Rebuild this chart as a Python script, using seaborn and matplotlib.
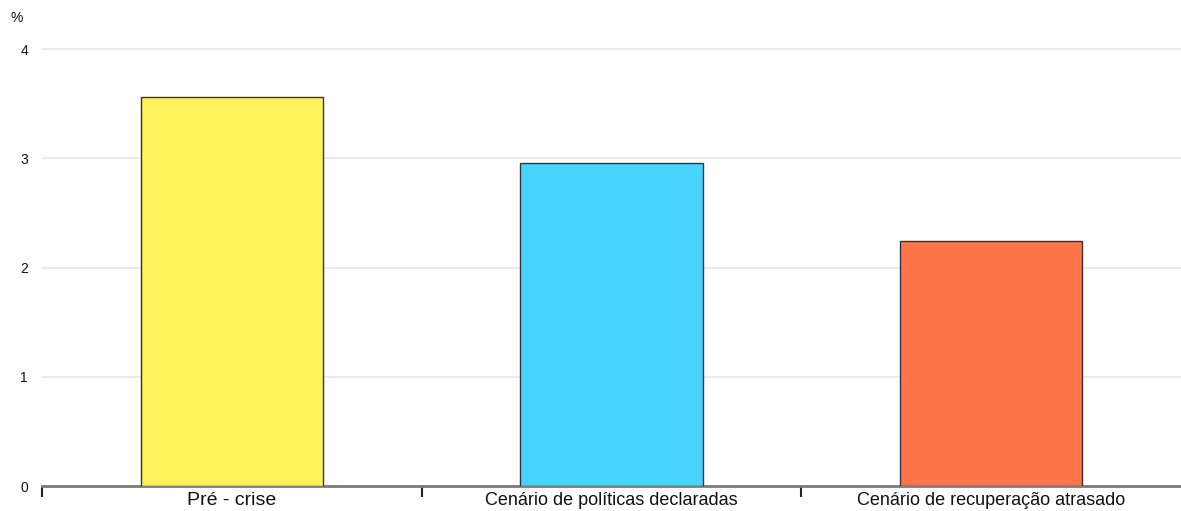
import matplotlib
matplotlib.use("Agg")
import matplotlib.pyplot as plt
import matplotlib.transforms as mtransforms
import seaborn as sns
import pandas as pd

# Data
categories = ["Pré - crise", "Cenário de políticas declaradas", "Cenário de recuperação atrasado"]
values = [3.56, 2.96, 2.24]
colors = ["#FFF25A", "#47D4FF", "#FF754A"]
yticks = [0, 1, 2, 3, 4]

sns.set_theme(style="white")
plt.rcParams["font.family"] = ["Liberation Sans", "DejaVu Sans"]

df = pd.DataFrame({"cat": categories, "val": values})

fig = plt.figure(figsize=(11.81, 5.11), dpi=100)
ax = fig.add_axes([42 / 1181, 1 - 486 / 511, 1 - 42 / 1181, (486 - 49) / 511])

sns.barplot(data=df, x="cat", y="val", hue="cat", palette=colors, legend=False,
            saturation=1, width=0.48, edgecolor="#333333", linewidth=1.0,
            ax=ax, zorder=3)

ax.set_xlim(-0.5, len(categories) - 0.5)
ax.set_ylim(0, 4)
ax.set_xlabel("")
ax.set_ylabel("")

# Horizontal grid
for y in yticks[1:]:
    ax.axhline(y, color="#e6e6e6", lw=1.2, zorder=0, clip_on=False)

# Spines
for s in ["left", "right", "top"]:
    ax.spines[s].set_visible(False)
ax.spines["bottom"].set_color("#7a7a7a")
ax.spines["bottom"].set_linewidth(2)

# Y ticks
ax.set_yticks(yticks)
ax.set_yticklabels([str(v) for v in yticks], fontsize=10, color="#111111")
ax.tick_params(axis="y", length=0, pad=10)

# X: labels centered under bars, tick marks on category boundaries
ax.set_xticks(range(len(categories)))
ax.set_xticklabels([])
ax.tick_params(axis="x", which="major", length=0)
ax.set_xticks([i - 0.5 for i in range(len(categories))], minor=True)
ax.tick_params(axis="x", which="minor", bottom=True, length=8, width=1.5,
               color="#222222", direction="out")
sizes = [14, 13, 13]
offset = mtransforms.ScaledTranslation(0, -6 / 100, fig.dpi_scale_trans)
for i, (lab, fs) in enumerate(zip(categories, sizes)):
    ax.text(i, 0, lab, ha="center", va="top", fontsize=fs, color="#111111",
            transform=ax.get_xaxis_transform() + offset)

# Unit label
fig.text(17 / 1181, 1 - 18 / 511, "%", ha="center", va="center", fontsize=10, color="#111111")

fig.savefig("out.png", dpi=100, facecolor="white")
